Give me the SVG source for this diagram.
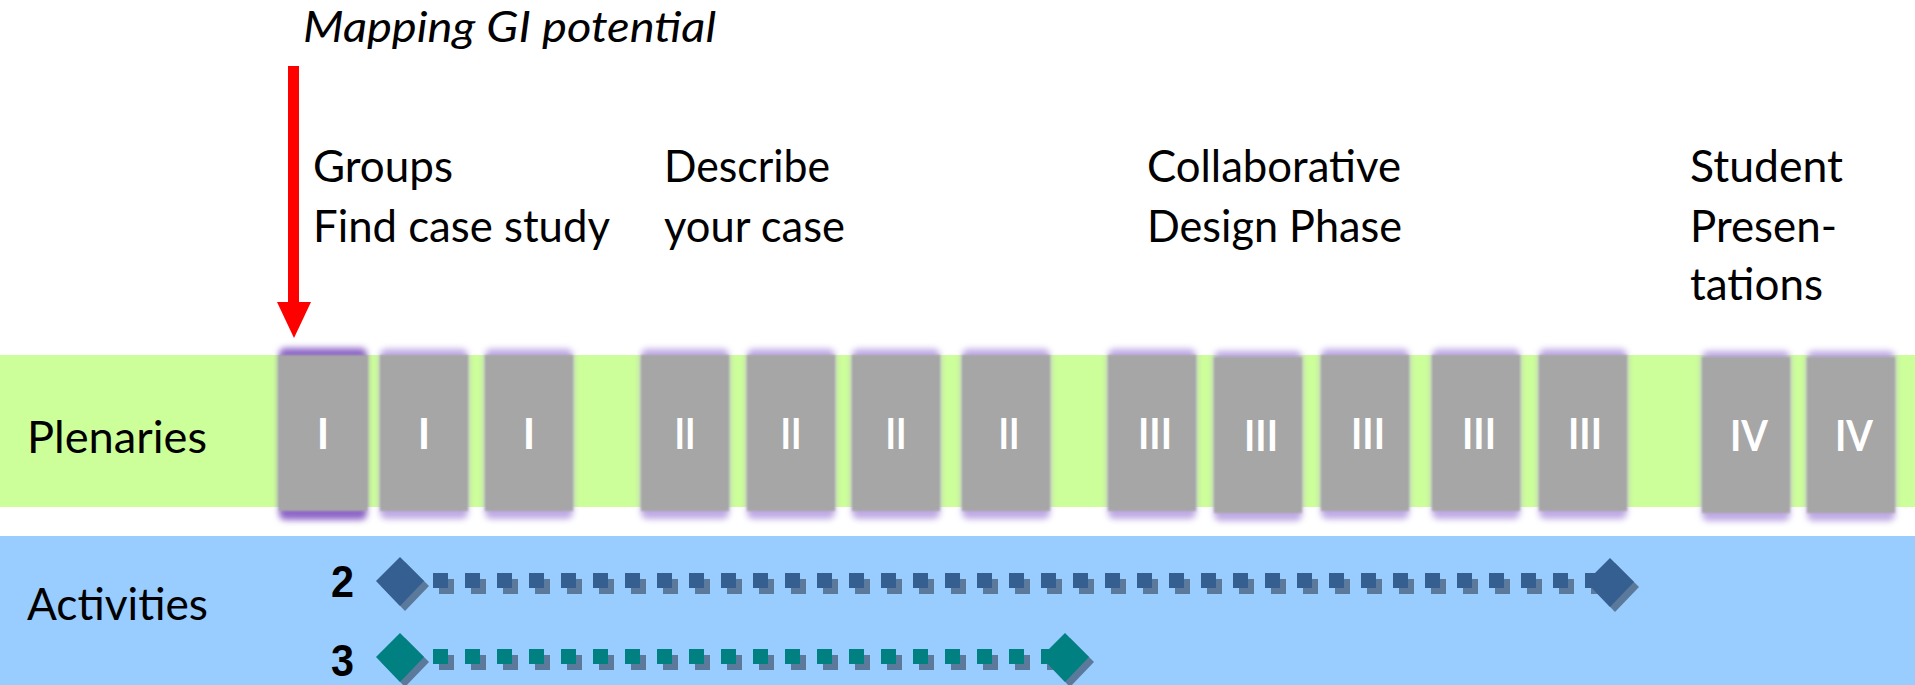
<svg xmlns="http://www.w3.org/2000/svg" xmlns:xlink="http://www.w3.org/1999/xlink" width="1915" height="685" viewBox="0 0 1915 685">
<style>
.lbl{font-family:Lato,"Open Sans","Liberation Sans",sans-serif;font-size:44px;fill:#000}
.it{font-family:Lato,"Open Sans","Liberation Sans",sans-serif;font-size:42px;font-style:italic;fill:#000}
.num{font-family:Lato,"Liberation Sans",sans-serif;font-size:42px;font-weight:bold;fill:#fff;text-anchor:middle}
.dig{font-family:"Liberation Sans",Arial,sans-serif;font-size:44px;font-weight:bold;fill:#000}
.box{fill:#A6A6A6}
.glow{fill:#B8A0E2;opacity:0.9}
.glow1{fill:#8E66C8;opacity:1}
</style>
<defs>
<filter id="soft" x="-10%" y="-10%" width="120%" height="120%"><feGaussianBlur stdDeviation="1.3"/></filter>
<filter id="gl" x="-20%" y="-20%" width="140%" height="140%"><feGaussianBlur stdDeviation="3"/></filter>
<g id="sqB"><rect x="6" y="6" width="15" height="15" fill="#5B7A9B"/><rect x="0" y="0" width="15" height="15" fill="#365F91"/></g>
<g id="sqT"><rect x="6" y="6" width="15" height="15" fill="#5B7A9B"/><rect x="0" y="0" width="15" height="15" fill="#008080"/></g>
<g id="dmB"><polygon points="5,-19 29,5 5,30 -19,5" fill="#5B7A9B"/><polygon points="0,-24 24,0 0,25 -24,0" fill="#365F91"/></g>
<g id="dmT"><polygon points="5,-19 29,5 5,30 -19,5" fill="#5B7A9B"/><polygon points="0,-24 24,0 0,25 -24,0" fill="#008080"/></g>
<g id="bx"><rect x="0" y="-6" width="88" height="170" rx="6" class="glow" filter="url(#gl)"/><rect x="0" y="0" width="88" height="156" class="box" filter="url(#soft)"/></g>
<g id="bx1"><rect x="0" y="-7" width="88" height="172" rx="6" class="glow1" filter="url(#gl)"/><rect x="0" y="0" width="88" height="156" class="box" filter="url(#soft)"/></g>
</defs>
<rect x="0" y="0" width="1915" height="685" fill="#fff"/>
<g id="bands">
<rect x="0" y="355" width="1915" height="152" fill="#CCFF99"/>
<rect x="0" y="536" width="1915" height="149" fill="#99CCFF"/>
</g>
<g id="labels">
<text class="it" x="303" y="42" textLength="413" lengthAdjust="spacingAndGlyphs">Mapping GI potential</text>
<text class="lbl" x="313" y="182" textLength="140" lengthAdjust="spacingAndGlyphs">Groups</text>
<text class="lbl" x="313" y="242" textLength="297" lengthAdjust="spacingAndGlyphs">Find case study</text>
<text class="lbl" x="664" y="182" textLength="166" lengthAdjust="spacingAndGlyphs">Describe</text>
<text class="lbl" x="664" y="242" textLength="181" lengthAdjust="spacingAndGlyphs">your case</text>
<text class="lbl" x="1147" y="182" textLength="254" lengthAdjust="spacingAndGlyphs">Collaborative</text>
<text class="lbl" x="1147" y="242" textLength="255" lengthAdjust="spacingAndGlyphs">Design Phase</text>
<text class="lbl" x="1690" y="182" textLength="153" lengthAdjust="spacingAndGlyphs">Student</text>
<text class="lbl" x="1690" y="242" textLength="147" lengthAdjust="spacingAndGlyphs">Presen-</text>
<text class="lbl" x="1690" y="300" textLength="133" lengthAdjust="spacingAndGlyphs">tations</text>
<text class="lbl" x="27" y="453" textLength="180" lengthAdjust="spacingAndGlyphs">Plenaries</text>
<text class="lbl" x="27" y="620" textLength="181" lengthAdjust="spacingAndGlyphs">Activities</text>
<text class="dig" x="331" y="597" textLength="23" lengthAdjust="spacingAndGlyphs">2</text>
<text class="dig" x="331" y="676" font-size="42" textLength="23" lengthAdjust="spacingAndGlyphs">3</text>
</g>
<g id="node-1"><use xlink:href="#bx1" x="279" y="355"/><text class="num" x="323" y="449">I</text></g>
<g id="node-2"><use xlink:href="#bx" x="380" y="355"/><text class="num" x="424" y="449">I</text></g>
<g id="node-3"><use xlink:href="#bx" x="485" y="355"/><text class="num" x="529" y="449">I</text></g>
<g id="node-4"><use xlink:href="#bx" x="641" y="355"/><text class="num" x="685" y="449" textLength="21" lengthAdjust="spacingAndGlyphs">II</text></g>
<g id="node-5"><use xlink:href="#bx" x="747" y="355"/><text class="num" x="791" y="449" textLength="21" lengthAdjust="spacingAndGlyphs">II</text></g>
<g id="node-6"><use xlink:href="#bx" x="852" y="355"/><text class="num" x="896" y="449" textLength="21" lengthAdjust="spacingAndGlyphs">II</text></g>
<g id="node-7"><use xlink:href="#bx" x="962" y="355"/><text class="num" x="1009" y="449" textLength="21" lengthAdjust="spacingAndGlyphs">II</text></g>
<g id="node-8"><use xlink:href="#bx" x="1108" y="355"/><text class="num" x="1155" y="449" textLength="34" lengthAdjust="spacingAndGlyphs">III</text></g>
<g id="node-9"><use xlink:href="#bx" x="1214" y="357"/><text class="num" x="1261" y="451" textLength="34" lengthAdjust="spacingAndGlyphs">III</text></g>
<g id="node-10"><use xlink:href="#bx" x="1321" y="355"/><text class="num" x="1368" y="449" textLength="34" lengthAdjust="spacingAndGlyphs">III</text></g>
<g id="node-11"><use xlink:href="#bx" x="1432" y="355"/><text class="num" x="1479" y="449" textLength="34" lengthAdjust="spacingAndGlyphs">III</text></g>
<g id="node-12"><use xlink:href="#bx" x="1539" y="355"/><text class="num" x="1585" y="449" textLength="34" lengthAdjust="spacingAndGlyphs">III</text></g>
<g id="node-13"><use xlink:href="#bx" x="1702" y="357"/><text class="num" x="1749" y="451" textLength="38" lengthAdjust="spacingAndGlyphs">IV</text></g>
<g id="node-14"><use xlink:href="#bx" x="1807" y="357"/><text class="num" x="1854" y="451" textLength="38" lengthAdjust="spacingAndGlyphs">IV</text></g>
<g id="connectors">
<g id="arrow">
<rect x="288" y="66" width="11" height="238" fill="#FF0000"/>
<polygon points="277,302 311,302 294,338" fill="#FF0000"/>
</g>
<g id="bar-2">
<use xlink:href="#sqB" x="433" y="573"/><use xlink:href="#sqB" x="465" y="573"/><use xlink:href="#sqB" x="497" y="573"/><use xlink:href="#sqB" x="529" y="573"/><use xlink:href="#sqB" x="561" y="573"/><use xlink:href="#sqB" x="593" y="573"/><use xlink:href="#sqB" x="625" y="573"/><use xlink:href="#sqB" x="657" y="573"/><use xlink:href="#sqB" x="689" y="573"/><use xlink:href="#sqB" x="721" y="573"/><use xlink:href="#sqB" x="753" y="573"/><use xlink:href="#sqB" x="785" y="573"/><use xlink:href="#sqB" x="817" y="573"/><use xlink:href="#sqB" x="849" y="573"/><use xlink:href="#sqB" x="881" y="573"/><use xlink:href="#sqB" x="913" y="573"/><use xlink:href="#sqB" x="945" y="573"/><use xlink:href="#sqB" x="977" y="573"/><use xlink:href="#sqB" x="1009" y="573"/><use xlink:href="#sqB" x="1041" y="573"/><use xlink:href="#sqB" x="1073" y="573"/><use xlink:href="#sqB" x="1105" y="573"/><use xlink:href="#sqB" x="1137" y="573"/><use xlink:href="#sqB" x="1169" y="573"/><use xlink:href="#sqB" x="1201" y="573"/><use xlink:href="#sqB" x="1233" y="573"/><use xlink:href="#sqB" x="1265" y="573"/><use xlink:href="#sqB" x="1297" y="573"/><use xlink:href="#sqB" x="1329" y="573"/><use xlink:href="#sqB" x="1361" y="573"/><use xlink:href="#sqB" x="1393" y="573"/><use xlink:href="#sqB" x="1425" y="573"/><use xlink:href="#sqB" x="1457" y="573"/><use xlink:href="#sqB" x="1489" y="573"/><use xlink:href="#sqB" x="1521" y="573"/><use xlink:href="#sqB" x="1553" y="573"/><use xlink:href="#sqB" x="1585" y="573"/>
<use xlink:href="#dmB" x="400" y="581"/><use xlink:href="#dmB" x="1610" y="582"/>
</g>
<g id="bar-3">
<use xlink:href="#sqT" x="433" y="649"/><use xlink:href="#sqT" x="465" y="649"/><use xlink:href="#sqT" x="497" y="649"/><use xlink:href="#sqT" x="529" y="649"/><use xlink:href="#sqT" x="561" y="649"/><use xlink:href="#sqT" x="593" y="649"/><use xlink:href="#sqT" x="625" y="649"/><use xlink:href="#sqT" x="657" y="649"/><use xlink:href="#sqT" x="689" y="649"/><use xlink:href="#sqT" x="721" y="649"/><use xlink:href="#sqT" x="753" y="649"/><use xlink:href="#sqT" x="785" y="649"/><use xlink:href="#sqT" x="817" y="649"/><use xlink:href="#sqT" x="849" y="649"/><use xlink:href="#sqT" x="881" y="649"/><use xlink:href="#sqT" x="913" y="649"/><use xlink:href="#sqT" x="945" y="649"/><use xlink:href="#sqT" x="977" y="649"/><use xlink:href="#sqT" x="1009" y="649"/><use xlink:href="#sqT" x="1041" y="649"/>
<use xlink:href="#dmT" x="400" y="657"/><use xlink:href="#dmT" x="1065" y="657"/>
</g>
</g>
</svg>
